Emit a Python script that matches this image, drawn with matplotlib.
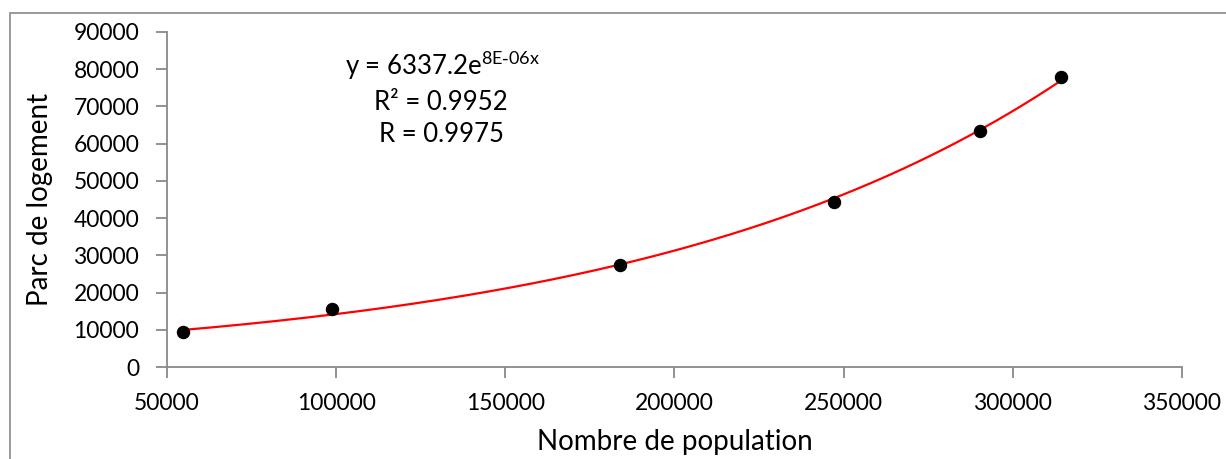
import numpy as np
import matplotlib.pyplot as plt
from matplotlib.patches import Rectangle

# Data
population = [54700, 98700, 183900, 247200, 290400, 314200]
logements = [9300, 15500, 27300, 44200, 63300, 78000]

x_ticks = [50000, 100000, 150000, 200000, 250000, 300000, 350000]
y_ticks = [0, 10000, 20000, 30000, 40000, 50000, 60000, 70000, 80000, 90000]

plt.rcParams['font.family'] = ['Lato', 'DejaVu Sans']

# Exponential trend line fitted in log space (as Excel does)
b, log_a = np.polyfit(population, np.log(logements), 1)
x_fit = np.linspace(min(population), max(population), 200)
y_fit = np.exp(log_a) * np.exp(b * x_fit)

fig = plt.figure(figsize=(12.26, 4.59), dpi=100)
ax = fig.add_axes([0.1362, 0.2004, 0.8279, 0.7299])

ax.plot(x_fit, y_fit, color='#ff0000', linewidth=1.6, zorder=2)
ax.scatter(population, logements, s=75, color='black', zorder=3)

ax.set_xlim(50000, 350000)
ax.set_ylim(0, 90000)
ax.set_xticks(x_ticks)
ax.set_yticks(y_ticks)

gray = '#898989'
for side in ['top', 'right']:
    ax.spines[side].set_visible(False)
for side in ['left', 'bottom']:
    ax.spines[side].set_color(gray)
    ax.spines[side].set_linewidth(1.3)
ax.tick_params(direction='out', length=8, width=1.3, color=gray,
               labelsize=16.5, labelcolor='black')
ax.tick_params(axis='x', pad=11)
ax.tick_params(axis='y', pad=12)

ax.set_xlabel('Nombre de population', fontsize=20, va='center')
ax.xaxis.set_label_coords(0.5, -0.224)
ax.set_ylabel('Parc de logement', fontsize=20, va='center', ha='center')
ax.yaxis.set_label_coords(-0.125, 0.5)

ax.text(0.175, 0.901, 'y = 6337.2e$^{\\mathregular{8E\\text{-}06x}}$', transform=ax.transAxes,
        fontsize=18.5, ha='left', va='center')
ax.text(0.27, 0.791, 'R² = 0.9952', transform=ax.transAxes,
        fontsize=18.5, ha='center', va='center')
ax.text(0.27, 0.693, 'R = 0.9975', transform=ax.transAxes,
        fontsize=18.5, ha='center', va='center')

# Chart area border (partly cropped in the original)
fig.patches.append(Rectangle((10 / 1226, -0.1), 1.2, 1.1 - 13 / 459,
                             transform=fig.transFigure, fill=False,
                             edgecolor=gray, linewidth=1.2))

fig.savefig('out.png', dpi=100)
